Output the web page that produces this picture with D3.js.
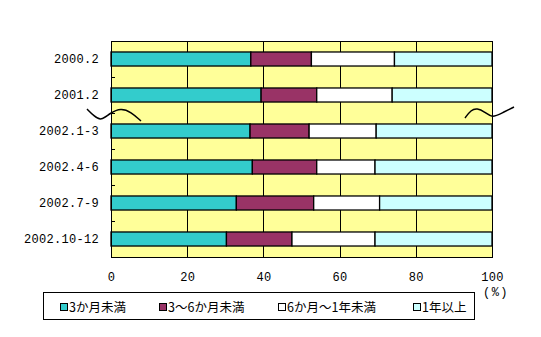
<!DOCTYPE html>
<html>
<head>
<meta charset="utf-8">
<script src="https://cdn.jsdelivr.net/npm/d3@7"></script>
<style>
  html, body { margin: 0; padding: 0; background: #ffffff; }
  svg { display: block; }
</style>
</head>
<body>
<svg id="chart" width="541" height="337"></svg>
<script>
// Periods (top to bottom)
const categories = ["2000.2", "2001.2", "2002.1-3", "2002.4-6", "2002.7-9", "2002.10-12"];
// Series: share of each duration bucket (%)
const seriesNames = ["3か月未満", "3～6か月未満", "6か月～1年未満", "1年以上"];
const under3m   = [36.7, 39.4, 36.5, 37.1, 32.9, 30.3];
const m3to6     = [15.9, 14.6, 15.5, 16.9, 20.3, 17.2];
const m6to1y    = [21.8, 19.8, 17.6, 15.3, 17.3, 21.8];
const over1y    = [25.6, 26.2, 30.4, 30.7, 29.5, 30.7];
const xTicks = [0, 20, 40, 60, 80, 100];
const unitLabel = "(%)";

const colors = ["#33cccc", "#993366", "#ffffff", "#ccffff"];
const seriesValues = [under3m, m3to6, m6to1y, over1y];

const svg = d3.select("#chart");
const plotL = 111, plotR = 492, plotT = 41, plotB = 257;
const monoFont = "'Liberation Mono', 'DejaVu Sans Mono', monospace";

const x = d3.scaleLinear().domain([0, 100]).range([plotL, plotR]);
const y = d3.scaleBand().domain(categories).range([plotT, plotB])
  .paddingInner(0.61).paddingOuter(0.305);

// Plot background
svg.append("rect")
  .attr("x", plotL).attr("y", plotT)
  .attr("width", plotR - plotL).attr("height", plotB - plotT)
  .attr("fill", "#ffff99");

// Vertical gridlines
svg.append("g").selectAll("line")
  .data(xTicks.filter(d => d > 0 && d < 100))
  .join("line")
  .attr("x1", d => Math.round(x(d)) + 0.5).attr("x2", d => Math.round(x(d)) + 0.5)
  .attr("y1", plotT).attr("y2", plotB)
  .attr("stroke", "#000").attr("stroke-width", 1);

// Stacked data
const rows = categories.map((c, i) => {
  const r = { cat: c };
  seriesNames.forEach((s, k) => r[s] = seriesValues[k][i]);
  return r;
});
const stacked = d3.stack().keys(seriesNames)(rows);

svg.append("g").selectAll("g")
  .data(stacked)
  .join("g")
  .attr("fill", (d, i) => colors[i])
  .selectAll("rect")
  .data(d => d)
  .join("rect")
  .attr("x", d => x(d[0]))
  .attr("y", d => y(d.data.cat))
  .attr("width", d => x(d[1]) - x(d[0]))
  .attr("height", y.bandwidth())
  .attr("stroke", "#000")
  .attr("stroke-width", 1.3);

// Plot frame
svg.append("rect")
  .attr("x", plotL + 0.5).attr("y", plotT + 0.5)
  .attr("width", plotR - plotL).attr("height", plotB - plotT)
  .attr("fill", "none").attr("stroke", "#000").attr("stroke-width", 1);

// Category axis ticks between bands
const step = y.step();
const bounds = categories.slice(1).map((c) => y(c) - y.paddingInner() * step / 2);
svg.append("g").selectAll("line")
  .data(bounds)
  .join("line")
  .attr("x1", plotL).attr("x2", plotL + 4)
  .attr("y1", d => Math.round(d) + 0.5).attr("y2", d => Math.round(d) + 0.5)
  .attr("stroke", "#000");

// Category labels
svg.append("g").selectAll("text")
  .data(categories)
  .join("text")
  .attr("x", 99)
  .attr("y", d => y(d) + y.bandwidth() / 2)
  .attr("dy", "0.36em")
  .attr("text-anchor", "end")
  .attr("font-family", monoFont)
  .attr("font-size", 12)
  .attr("letter-spacing", 0.3)
  .attr("fill", "#000")
  .text(d => d);

// Value axis labels
svg.append("g").selectAll("text")
  .data(xTicks)
  .join("text")
  .attr("x", d => x(d) + 0.5)
  .attr("y", 277)
  .attr("dy", "0.36em")
  .attr("text-anchor", "middle")
  .attr("font-family", monoFont)
  .attr("font-size", 12)
  .attr("letter-spacing", 0.3)
  .attr("fill", "#000")
  .text(d => d);

svg.append("text")
  .attr("x", 496).attr("y", 292).attr("dy", "0.36em")
  .attr("text-anchor", "middle")
  .attr("font-family", monoFont)
  .attr("font-size", 12)
  .attr("letter-spacing", 1.5)
  .attr("fill", "#000")
  .text(unitLabel);

// Axis break marks
const breakLine = d3.line().curve(d3.curveBasis);
const leftBreak = [[87, 109], [94, 116], [101, 121], [110, 113], [121, 108], [131, 112], [141, 121]];
const rightBreak = [[465, 118], [471, 110], [477, 108], [485, 112], [492, 118], [502, 113], [514, 107]];
[leftBreak, rightBreak].forEach(pts => {
  svg.append("path")
    .attr("d", breakLine(pts))
    .attr("fill", "none")
    .attr("stroke", "#000")
    .attr("stroke-width", 1.5);
});

// Legend
const legend = svg.append("g");
legend.append("rect")
  .attr("x", 43.5).attr("y", 292.5)
  .attr("width", 431).attr("height", 27)
  .attr("fill", "#fff").attr("stroke", "#000");
const legendX = [60, 159, 278, 413];
seriesNames.forEach((name, i) => {
  const g = legend.append("g").attr("transform", `translate(${legendX[i]},303)`);
  g.append("rect")
    .attr("x", 0.5).attr("y", 0.5).attr("width", 7).attr("height", 7)
    .attr("fill", colors[i]).attr("stroke", "#000");
  g.append("text")
    .attr("x", 9).attr("y", 4).attr("dy", "0.36em")
    .attr("font-family", "'Noto Sans CJK JP', sans-serif")
    .attr("font-size", 12.5)
    .attr("fill", "#000")
    .text(name);
});
</script>
</body>
</html>
